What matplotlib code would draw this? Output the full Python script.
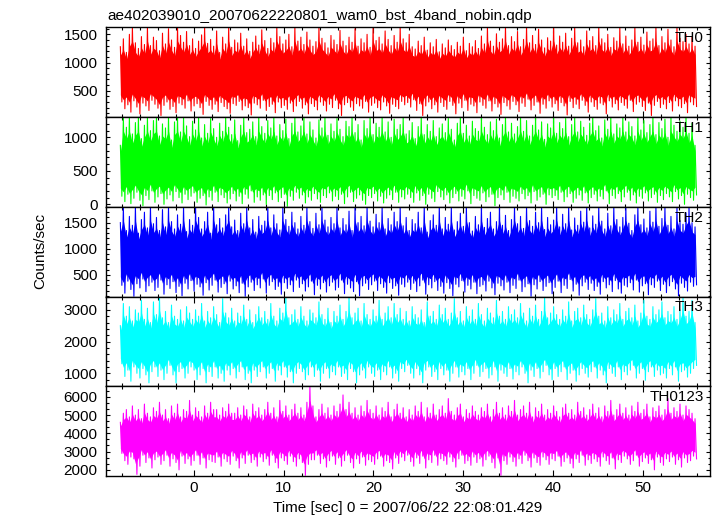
import numpy as np
import matplotlib
matplotlib.use("Agg")
import matplotlib.pyplot as plt
from matplotlib.ticker import MultipleLocator

# ---------------- data ----------------
title = "ae402039010_20070622220801_wam0_bst_4band_nobin.qdp"
xlabel = "Time [sec] 0 = 2007/06/22 22:08:01.429"
ylabel = "Counts/sec"
bands = ["TH0", "TH1", "TH2", "TH3", "TH0123"]
colors = ["#ff0000", "#00ff00", "#0000ff", "#00ffff", "#ff00ff"]
t_start, t_end = -8.2, 56.0
xlim = (-9.8, 57.5)
ylims = [(34, 1630), (-40, 1303), (86, 1800), (600, 3420), (1690, 6590)]
ymajor = [500, 500, 500, 1000, 1000]
yminor = [100, 100, 100, 200, 1000 / 3]
levels = [750, 560, 880, 1930, 3880]   # mean count rate of each band

th0_peaks = [
    1280, 1420, 1180, 1500, 1630, 1350, 1250, 1460, 1320, 1630, 1300, 1450,
    1390, 1210, 1520, 1330, 1600, 1400, 1270, 1630, 1480, 1360, 1550, 1300,
    1420, 1250, 1380, 1490, 1630, 1340, 1410, 1290, 1560, 1180, 1450, 1330,
    1630, 1270, 1400, 1350, 1520, 1290, 1420, 1200, 1360, 1470, 1310, 1580,
    1390, 1250, 1430, 1350, 1630, 1460, 1330, 1400, 1500, 1280, 1630, 1380,
    1450, 1320, 1540, 1400, 1290, 1370, 1630, 1430, 1350, 1260, 1480, 1400,
    1320, 1570, 1380, 1300, 1450, 1360, 1600, 1290, 1420, 1350, 1500, 1270,
    1630, 1390, 1450, 1330, 1560, 1410, 1300, 1480, 1360, 1630, 1420, 1350,
    1500, 1280, 1240, 1380, 1300, 1450, 1220, 1350, 1280, 1410, 1190, 1330,
    1260, 1400, 1300, 1230, 1360, 1290, 1450, 1210, 1340, 1280, 1390, 1250,
    1470, 1330, 1630, 1380, 1290, 1510, 1360, 1420, 1630, 1300, 1460, 1370,
    1550, 1280, 1410, 1630, 1350, 1480, 1320, 1590, 1400, 1260, 1440, 1380,
    1630, 1310, 1470, 1360, 1520, 1290, 1430, 1630, 1350, 1400, 1280, 1560,
    1390, 1460, 1300, 1630, 1420, 1350, 1500, 1270, 1440, 1380, 1610, 1330,
    1470, 1290, 1400, 1630, 1360, 1450, 1310, 1540, 1380, 1420, 1630, 1300,
    1460, 1350, 1590, 1400, 1280, 1630, 1430, 1370, 1500, 1330, 1450, 1290]
th0_troughs = [
    300, 180, 250, 120, 320, 210, 90, 280, 230, 150, 330, 260,
    190, 60, 240, 300, 170, 220, 110, 280, 250, 190, 320, 140,
    230, 270, 200, 80, 310, 240, 170, 260, 130, 290, 220, 180,
    100, 270, 240, 310, 160, 230, 200, 70, 280, 250, 190, 330,
    150, 220, 260, 110, 300, 200, 240, 170, 280, 130, 230, 310,
    190, 250, 90, 270, 220, 160, 300, 240, 140, 260, 200, 330,
    180, 60, 250, 290, 210, 150, 270, 230, 190, 310, 120, 240,
    280, 200, 160, 300, 230, 100, 260, 220, 180, 310, 250, 290,
    210, 340, 150, 270, 60, 230, 300, 180, 250, 120, 290, 220,
    170, 310, 240, 90, 280, 200, 330, 150, 260, 230, 110, 300,
    240, 190, 320, 140, 270, 210, 80, 290, 230, 170, 310, 250,
    130, 280, 220, 350, 160, 240, 300, 100, 260, 190, 320, 210,
    270, 150, 290, 230, 70, 310, 200, 260, 180, 330, 240, 120,
    300, 220, 170, 280, 250, 90, 320, 210, 270, 160, 290, 240,
    190, 330, 130, 260, 300, 220, 150, 280, 60, 240, 310, 200,
    260, 180, 290, 140, 320, 230, 200, 270, 110, 300, 250, 220]

th1_peaks = [
    880, 1300, 1150, 1300, 1050, 1220, 1300, 980, 1180, 1300, 1100, 1250,
    1300, 1020, 1200, 1140, 1300, 960, 1230, 1300, 1080, 1300, 1170, 1010,
    1240, 1110, 1300, 990, 1190, 1060, 1280, 1130, 1000, 1210, 1090, 1300,
    1150, 1040, 1260, 950, 1180, 1300, 1070, 1120, 1230, 1010, 1300, 1160,
    1060, 1250, 1140, 1300, 1020, 1190, 1100, 1270, 980, 1210, 1300, 1080,
    1170, 1300, 1050, 1230, 1110, 990, 1260, 1140, 1300, 1030, 1200, 1090,
    1280, 1120, 1010, 1240, 1160, 1300, 1070, 1190, 960, 1250, 1130, 1300,
    1040, 1210, 1150, 1300, 1080, 1230, 1000, 1270, 1120, 1190, 1300, 1050,
    1100, 1220, 980, 1160, 1300, 1040, 1190, 1090, 1250, 1010, 1140, 1200,
    1070, 1280, 1120, 960, 1210, 1300, 1060, 1180, 1020, 1240, 1130, 1090,
    1300, 1150, 1040, 1230, 1100, 1270, 990, 1190, 1300, 1080, 1210, 1050,
    1160, 1300, 1090, 1250, 1020, 1180, 1300, 1110, 1230, 970, 1200, 1140,
    1300, 1060, 1220, 1130, 1280, 1010, 1190, 1300, 1080, 1240, 1150, 1030,
    1210, 1300, 1100, 1170, 990, 1260, 1120, 1300, 1050, 1200, 1140, 1300,
    1080, 1230, 1160, 1020, 1300, 1110, 1250, 1070, 1190, 1300, 1040, 1220,
    1130, 1270, 1000, 1300, 1180, 1090, 1240, 1150, 1300, 1060, 1210, 880]
th1_troughs = [
    120, 40, 150, 10, 90, 180, 60, -20, 130, 70, 200, 30,
    110, 160, 0, 80, 140, 50, 190, 100, 20, 150, 70, 120,
    170, 30, 90, 130, -10, 110, 60, 180, 40, 140, 100, 20,
    80, 160, 50, 120, 10, 150, 90, 200, 30, 110, 60, 140,
    0, 130, 70, 170, 40, 100, 150, -30, 120, 60, 180, 90,
    140, 20, 110, 60, 160, 80, 30, 130, 100, 170, 50, 120,
    70, 150, 10, 110, 180, 40, 90, 140, 60, 0, 130, 100,
    160, 50, 120, 20, 90, 140, 70, 180, 30, 110, 80, 150,
    100, 30, 170, 60, 130, 0, 150, 90, 40, 190, 110, 70,
    140, 20, 100, 160, 50, 120, 80, 200, 10, 130, 90, 60,
    170, 40, 110, 150, -20, 100, 140, 70, 180, 30, 120, 90,
    50, 160, 80, 130, 20, 190, 60, 110, 150, 0, 140, 100,
    130, 70, 180, 40, 110, 160, 30, 90, 140, 60, 170, 20,
    100, 150, 50, 120, 80, 200, 10, 130, 90, 160, 40, 110,
    180, 60, 140, 20, 120, 90, 170, 50, 100, 150, 30, 130,
    70, 160, 110, 40, 190, 80, 130, 0, 150, 100, 60, 140]

th2_peaks = [
    1500, 1800, 1350, 1620, 1450, 1800, 1300, 1560, 1700, 1400, 1800, 1480,
    1600, 1350, 1750, 1420, 1800, 1520, 1380, 1650, 1470, 1800, 1330, 1560,
    1450, 1800, 1600, 1380, 1520, 1700, 1300, 1800, 1460, 1580, 1400, 1650,
    1800, 1420, 1550, 1350, 1680, 1480, 1800, 1400, 1560, 1320, 1620, 1450,
    1530, 1800, 1400, 1650, 1480, 1360, 1800, 1560, 1430, 1700, 1500, 1380,
    1620, 1450, 1800, 1520, 1390, 1680, 1460, 1800, 1550, 1420, 1600, 1480,
    1800, 1400, 1580, 1460, 1720, 1350, 1800, 1500, 1620, 1440, 1800, 1530,
    1420, 1660, 1500, 1800, 1380, 1580, 1460, 1700, 1520, 1800, 1440, 1600,
    1350, 1560, 1480, 1700, 1400, 1800, 1320, 1540, 1650, 1450, 1800, 1380,
    1600, 1470, 1800, 1360, 1520, 1680, 1430, 1800, 1500, 1340, 1620, 1460,
    1800, 1410, 1580, 1700, 1380, 1520, 1800, 1450, 1640, 1350, 1560, 1800,
    1480, 1620, 1390, 1800, 1540, 1430, 1700, 1500, 1800, 1370, 1600, 1460,
    1550, 1800, 1420, 1660, 1480, 1800, 1360, 1590, 1450, 1720, 1510, 1800,
    1400, 1630, 1470, 1800, 1530, 1380, 1680, 1440, 1800, 1560, 1420, 1600,
    1800, 1490, 1350, 1650, 1800, 1460, 1570, 1400, 1720, 1510, 1800, 1430,
    1580, 1800, 1450, 1620, 1380, 1800, 1540, 1470, 1690, 1800, 1500, 1420]
th2_troughs = [
    300, 150, 380, 220, 90, 330, 250, 420, 180, 290, 360, 200,
    260, 400, 130, 310, 240, 370, 160, 280, 100, 340, 230, 390,
    190, 320, 270, 110, 350, 210, 300, 400, 170, 260, 330, 140,
    380, 230, 290, 160, 340, 90, 270, 360, 200, 310, 250, 420,
    150, 300, 370, 220, 280, 130, 350, 240, 310, 180, 400, 260,
    330, 190, 270, 380, 120, 300, 230, 350, 170, 290, 360, 210,
    260, 400, 140, 320, 250, 180, 370, 100, 290, 340, 220, 310,
    380, 200, 330, 260, 150, 350, 240, 290, 110, 320, 270, 360,
    220, 340, 180, 290, 400, 130, 310, 250, 370, 200, 280, 150,
    350, 240, 100, 320, 270, 390, 170, 300, 230, 360, 140, 280,
    310, 190, 380, 250, 120, 340, 290, 210, 360, 160, 300, 240,
    400, 180, 270, 330, 90, 310, 230, 370, 200, 280, 350, 140,
    260, 380, 160, 300, 240, 410, 190, 320, 110, 290, 360, 220,
    340, 200, 280, 130, 370, 250, 310, 180, 390, 230, 150, 300,
    270, 350, 210, 400, 170, 290, 330, 120, 310, 260, 380, 200,
    320, 160, 290, 370, 230, 100, 340, 260, 190, 360, 280, 310]

th3_peaks = [
    2500, 3200, 2800, 3100, 2650, 3000, 2900, 3300, 2700, 3050, 2600, 3250,
    2850, 3400, 2750, 2950, 2600, 3150, 2800, 2700, 3000, 2650, 3100, 2900,
    2700, 3000, 2800, 3200, 2650, 2950, 2750, 3100, 2850, 2600, 3350, 2900,
    2750, 3050, 2650, 2900, 2800, 3150, 2700, 3000, 2600, 2850, 3100, 2750,
    2950, 2700, 3200, 2800, 2650, 3050, 2900, 3400, 2750, 2850, 3000, 2700,
    3100, 2800, 2650, 3000, 2900, 2750, 3250, 2850, 2700, 3050, 2600, 2950,
    2800, 3150, 2700, 2950, 3400, 2750, 2900, 3050, 2650, 3200, 2850, 2700,
    3000, 2800, 3300, 2700, 2900, 3100, 2750, 3200, 2850, 3050, 2700, 2950,
    2650, 3100, 2850, 2750, 3000, 2600, 3250, 2800, 2950, 2700, 3150, 2850,
    3050, 2700, 2900, 3350, 2750, 2950, 2650, 3100, 2800, 3000, 2700, 3200,
    2850, 2650, 3050, 2900, 2750, 3300, 2800, 2950, 2700, 3100, 2850, 3000,
    2750, 3200, 2900, 2650, 3050, 2800, 3150, 2700, 2950, 3400, 2750, 2900,
    3100, 2850, 2700, 3000, 2800, 3250, 2650, 2950, 3050, 2750, 3150, 2850,
    2700, 3000, 3350, 2800, 2900, 2650, 3100, 2750, 3000, 2850, 3200, 2700,
    2950, 3050, 2750, 3150, 2650, 2900, 3300, 2800, 2700, 3100, 2850, 3000,
    3250, 2750, 2950, 2850, 3100, 2700, 3000, 3400, 2800, 2950, 3300, 2600]
th3_troughs = [
    1300, 900, 1100, 750, 1200, 1000, 850, 1150, 950, 700, 1050, 1200,
    900, 1100, 800, 1000, 1250, 950, 700, 1050, 1150, 850, 1000, 1200,
    1100, 800, 950, 1150, 700, 1050, 900, 1200, 850, 1000, 750, 1100,
    950, 1150, 850, 1050, 1200, 800, 1000, 700, 1100, 900, 1050, 1200,
    850, 1000, 1150, 750, 1100, 950, 1200, 880, 1050, 700, 1000, 1150,
    1050, 800, 950, 1200, 900, 1100, 750, 1000, 1150, 850, 1050, 950,
    1200, 900, 1000, 800, 1150, 1050, 700, 950, 1100, 850, 1200, 1000,
    900, 1100, 800, 1050, 950, 1200, 850, 1000, 750, 1150, 1050, 1250,
    1000, 850, 1150, 950, 700, 1100, 1200, 900, 1050, 800, 1150, 950,
    1100, 750, 1000, 1200, 880, 1050, 950, 1150, 800, 1000, 1250, 900,
    1050, 1150, 850, 950, 1200, 750, 1100, 1000, 900, 1150, 820, 1050,
    950, 1200, 1000, 700, 1100, 900, 1150, 850, 1050, 1250, 950, 800,
    1150, 900, 1050, 1200, 800, 1000, 1100, 750, 950, 1150, 1000, 880,
    1050, 1200, 850, 1100, 950, 700, 1150, 1000, 900, 1200, 800, 1050,
    950, 1100, 1250, 850, 1000, 1150, 780, 1050, 1200, 900, 1100, 950,
    1000, 850, 1150, 950, 1200, 750, 1050, 1100, 880, 1000, 1150, 1250]

th0123_peaks = [
    4600, 5100, 5300, 4900, 5500, 5000, 5300, 4800, 5600, 5100, 4900, 5400,
    5200, 5700, 5000, 5300, 4800, 5500, 5100, 5600, 4900, 5300, 5200, 5800,
    5000, 5400, 5200, 4900, 5500, 5100, 5700, 5300, 5300, 5000, 5400, 5200,
    5600, 5100, 5100, 5400, 5000, 5500, 5300, 4900, 5600, 5200, 5400, 5000,
    5300, 5700, 5100, 5400, 4900, 5800, 5200, 5500, 5000, 5300, 5600, 5100,
    5400, 5000, 5700, 6550, 5500, 4900, 5300, 5600, 5100, 5400, 5000, 5500,
    5200, 5600, 6100, 5300, 5700, 5100, 5400, 5000, 5500, 5200, 5800, 5300,
    5100, 5500, 5000, 5400, 5200, 5700, 4900, 5300, 5600, 5100, 5400, 4900,
    5300, 5000, 5500, 5200, 5700, 4900, 5400, 5100, 5600, 5000, 5300, 5500,
    5100, 5900, 5200, 5000, 5400, 5600, 4900, 5300, 5100, 5500, 5200, 5000,
    5400, 5200, 5600, 4900, 5300, 5700, 5100, 5400, 5000, 5500, 5200, 5800,
    5000, 5300, 5500, 5100, 5700, 4900, 5400, 5200, 5600, 5000, 5300, 5100,
    5500, 5200, 4900, 5400, 5600, 5100, 5300, 5000, 5700, 5200, 5400, 5000,
    5300, 5600, 5100, 5400, 4900, 5500, 5200, 5800, 5000, 5300, 5600, 5100,
    5400, 5000, 5500, 5200, 5700, 5100, 5300, 5600, 4900, 5400, 5200, 5500,
    5000, 5300, 5900, 5100, 5400, 5200, 5600, 5000, 5500, 5300, 5100, 4800]
th0123_troughs = [
    2900, 2500, 2300, 2700, 2600, 1750, 2200, 2800, 2400, 2650, 2100, 2550,
    2700, 2300, 2500, 2800, 2200, 2600, 2400, 2000, 2750, 2350, 2600, 2250,
    2500, 2800, 2300, 2650, 2100, 2550, 2450, 2400, 2700, 2200, 2600, 2450,
    2300, 2750, 2500, 2100, 2650, 2350, 2800, 2400, 2550, 2200, 2700, 2450,
    2600, 2250, 2800, 2400, 2100, 2650, 2500, 2300, 2750, 2450, 2200, 2600,
    2400, 1700, 2300, 2550, 2550, 2800, 2350, 2600, 2150, 2500, 2750, 2300,
    2650, 2200, 2500, 2800, 2400, 2100, 2600, 2350, 2700, 2250, 2550, 2450,
    2300, 2600, 2750, 2200, 2500, 2400, 2050, 2650, 2350, 2700, 2500, 2800,
    2450, 2200, 2650, 2350, 2750, 2100, 2550, 2400, 2800, 2250, 2600, 2500,
    2300, 2700, 2450, 2150, 2600, 2800, 2350, 2500, 2250, 2700, 2400, 2600,
    2200, 2550, 2750, 2400, 2100, 2650, 1700, 2500, 2300, 2700, 2450, 2200,
    2600, 2350, 2800, 2500, 2150, 2650, 2400, 2250, 2700, 2550, 2300, 2600,
    2500, 2750, 2200, 2450, 2650, 2350, 2100, 2600, 2400, 2800, 2250, 2550,
    2350, 2600, 2450, 2200, 2700, 2500, 2300, 2650, 2050, 2550, 2400, 2750,
    2600, 2300, 2500, 2800, 2200, 2450, 2650, 2350, 2550, 2000, 2700, 2400,
    2250, 2600, 2450, 2700, 2300, 2550, 2150, 2650, 2400, 2500, 2750, 2600]

peaks = [th0_peaks, th1_peaks, th2_peaks, th3_peaks, th0123_peaks]
troughs = [th0_troughs, th1_troughs, th2_troughs, th3_troughs, th0123_troughs]

# ---------------- figure ----------------
plt.rcParams['font.family'] = ['Liberation Sans', 'DejaVu Sans']
W, H = 717, 516
fig = plt.figure(figsize=(W / 100, H / 100), dpi=100)
left_px, right_px = 106, 710
panel_px = [(27, 117), (117, 207), (207, 296.5), (296.5, 386), (386, 475.5)]
fs = 11

for i, (top, bot) in enumerate(panel_px):
    ax = fig.add_axes([left_px / W, 1 - bot / H, (right_px - left_px) / W, (bot - top) / H])
    p = np.asarray(peaks[i], float)
    q = np.asarray(troughs[i], float)
    n = min(len(p), len(q))
    p, q = p[:n], q[:n]
    series = np.empty(2 * n)
    series[0::2] = p
    series[1::2] = q
    t = np.linspace(t_start, t_end, 2 * n)
    centre = levels[i]
    core_hi = centre + 0.72 * (p - centre)
    core_lo = centre - 0.72 * (centre - q)
    ax.fill_between(t[0::2], core_lo, core_hi, color=colors[i], linewidth=0)
    ax.plot(t, series, color=colors[i], lw=0.8)

    ax.set_xlim(*xlim)
    ax.set_ylim(*ylims[i])
    ax.xaxis.set_major_locator(MultipleLocator(10))
    ax.xaxis.set_minor_locator(MultipleLocator(2))
    ax.yaxis.set_major_locator(MultipleLocator(ymajor[i]))
    ax.yaxis.set_minor_locator(MultipleLocator(yminor[i]))
    ax.tick_params(axis='both', which='both', direction='in', top=True, right=True,
                   labelsize=fs, width=0.8)
    ax.tick_params(axis='x', which='major', length=4.5, pad=4)
    ax.tick_params(axis='x', which='minor', length=2.2)
    ax.tick_params(axis='y', which='major', length=3.2, pad=6)
    ax.tick_params(axis='y', which='minor', length=1.8)
    for s in ax.spines.values():
        s.set_linewidth(1.0)
    if i < len(panel_px) - 1:
        ax.tick_params(axis='x', labelbottom=False)
    else:
        ax.set_xlabel(xlabel, fontsize=fs, labelpad=4)
    ax.text(0.99, 0.96, bands[i], transform=ax.transAxes, ha='right', va='top',
            fontsize=fs)

fig.text(107 / W, 1 - 20 / H, title, fontsize=fs, ha='left', va='baseline')
fig.text(40 / W, 1 - 251 / H, ylabel, fontsize=fs, rotation=90, ha='center', va='center')

fig.savefig("out.png", dpi=100)
